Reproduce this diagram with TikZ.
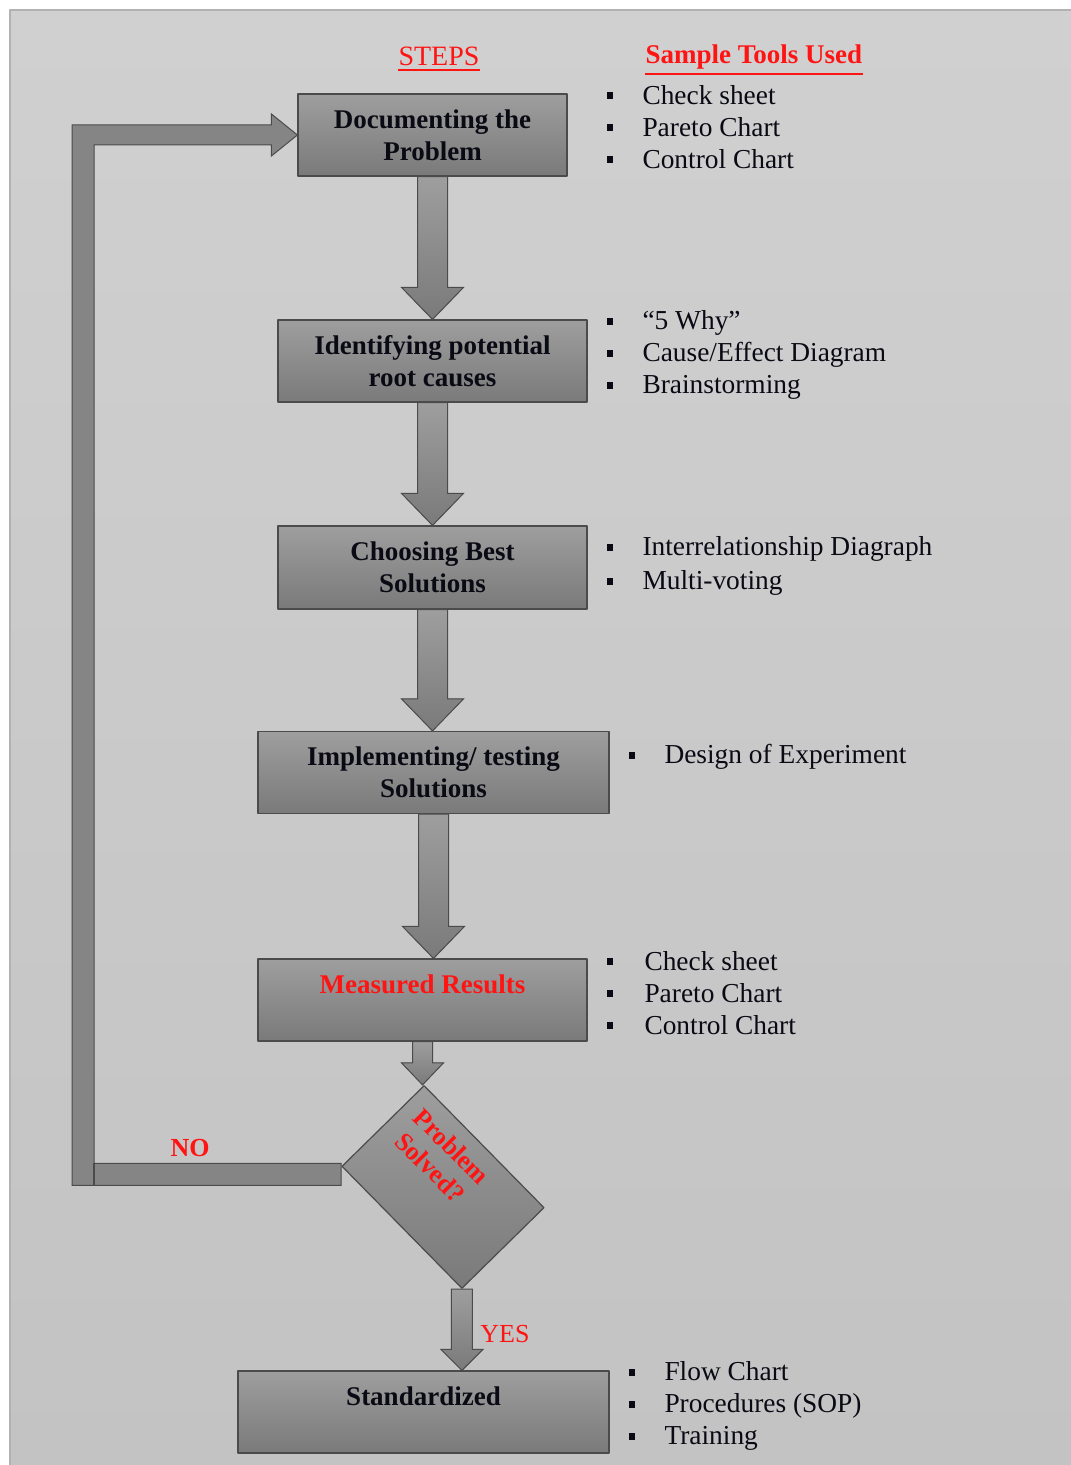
\documentclass[tikz,border=0pt]{standalone}
\usepackage{fontspec}
\setmainfont{Liberation Serif}
\usetikzlibrary{calc}

\definecolor{panelcol}{RGB}{208,208,208}
\definecolor{panelbot}{RGB}{195,195,195}
\definecolor{edgecol}{RGB}{75,75,75}
\definecolor{boxtop}{RGB}{158,158,158}
\definecolor{boxbot}{RGB}{122,122,122}
\definecolor{redtext}{RGB}{255,20,20}
\definecolor{textcol}{RGB}{10,10,20}

\tikzset{
  stepbox/.style={draw=edgecol, line width=1.2bp, top color=boxtop, bottom color=boxbot,
    align=center, inner sep=0pt, minimum height=82bp, text=textcol,
    font=\fontsize{27bp}{32bp}\selectfont\bfseries},
  decisionbox/.style={draw=edgecol, line width=1.2bp, top color=boxtop, bottom color=boxbot,
    minimum width=171bp, minimum height=115bp, inner sep=0pt, rotate=-45.5},
  decisiontext/.style={align=center, inner sep=0pt, rotate=-45, text=redtext,
    font=\fontsize{26bp}{30bp}\selectfont\bfseries},
  toollist/.style={align=left, anchor=west, inner sep=0pt, text=textcol,
    font=\fontsize{27.4bp}{32bp}\selectfont},
  heading/.style={inner sep=0pt, text=redtext, font=\fontsize{28bp}{32bp}\selectfont},
  answer/.style={inner sep=0pt, text=redtext, font=\fontsize{26bp}{30bp}\selectfont},
  arrowbody/.style={draw=edgecol, line width=1bp, line join=miter, top color=boxtop, bottom color=boxbot},
  loopbody/.style={draw=edgecol, line width=1bp, line join=miter, fill=boxbot!92!white},
  headline/.style={redtext, line width=2bp}
}

% bullet mark of the tool lists
\newcommand{\sq}{\rule[5bp]{6bp}{7bp}\hspace{30bp}}

% block arrow straight down, #1 from, #2 to, #3 shaft half width, #4 head half width, #5 head length
\newcommand{\blockarrow}[5]{%
  \filldraw[arrowbody] let \p1=(#1), \p2=(#2) in
    (\x1-#3,\y1) -- (\x1+#3,\y1) -- (\x1+#3,\y2+#5) -- (\x1+#4,\y2+#5)
    -- (\x1,\y2) -- (\x1-#4,\y2+#5) -- (\x1-#3,\y2+#5) -- cycle;
}

\begin{document}
\begin{tikzpicture}[>=latex,line join=bevel]
  \pgfsetlinewidth{1bp}
%%
  \useasboundingbox (0bp,0bp) rectangle (1071bp,1465bp);
  \fill[white] (0bp,0bp) rectangle (1071bp,1465bp);
  \filldraw[draw=black!30, line width=1.5bp, top color=panelcol, bottom color=panelbot]
    (10bp,-2bp) rectangle (1073bp,1455bp);
  % Headings
  \node[heading] (steps) at (439bp,1409bp) {STEPS};
  \node[heading, anchor=west, font=\fontsize{27bp}{32bp}\selectfont\bfseries] (tools) at (645bp,1408bp) {Sample Tools Used};
  \draw[headline] ([yshift=-4bp]steps.south west) -- ([yshift=-4bp]steps.south east);
  \draw[headline] ([yshift=-4bp]tools.south west) -- ([yshift=-4bp]tools.south east);
  % Node: box1
  \node[stepbox, minimum width=269bp] (box1) at (432.5bp,1330bp) {Documenting the\\Problem};
  % Node: box2
  \node[stepbox, minimum width=309bp] (box2) at (432.5bp,1104bp) {Identifying potential\\root causes};
  % Node: box3
  \node[stepbox, minimum width=309bp, minimum height=83bp] (box3) at (432.5bp,897.5bp) {Choosing Best\\Solutions};
  % Node: box4
  \node[stepbox, minimum width=351bp] (box4) at (433.5bp,692.5bp) {Implementing/ testing\\Solutions};
  % Node: box5
  \node[stepbox, minimum width=329bp, text=redtext] (box5) at (422.5bp,465bp) {Measured Results\\\mbox{}};
  % Node: dia
  \node[decisionbox] (dia) at (443bp,278bp) {};
  \node[decisiontext] (diatext) at ($(dia.center)+(-2bp,30bp)$) {Problem\\Solved?};
  % Node: box6
  \node[stepbox, minimum width=371bp] (box6) at (423.5bp,53bp) {Standardized\\\mbox{}};
  % Tool lists
  \node[toollist] (list1) at (606bp,1338bp) {\sq Check sheet\\\sq Pareto Chart\\\sq Control Chart};
  \node[toollist] (list2) at (606bp,1110bp) {\sq ``5 Why''\\\sq Cause/Effect Diagram\\\sq Brainstorming};
  \node[toollist, font=\fontsize{27.4bp}{34bp}\selectfont] (list3) at (606bp,899bp) {\sq Interrelationship Diagraph\\\sq Multi-voting};
  \node[toollist] (list4) at (628bp,708bp) {\sq Design of Experiment};
  \node[toollist] (list5) at (606bp,472bp) {\sq\hspace{2bp}Check sheet\\\sq\hspace{2bp}Pareto Chart\\\sq\hspace{2bp}Control Chart};
  \node[toollist] (list6) at (628bp,59bp) {\sq Flow Chart\\\sq Procedures (SOP)\\\sq Training};
  % Edge: box1 -> box2
  \blockarrow{box1.south}{box2.north}{15bp}{31bp}{32bp}
  % Edge: box2 -> box3
  \blockarrow{box2.south}{box3.north}{15bp}{31bp}{32bp}
  % Edge: box3 -> box4
  \blockarrow{box3.south}{box4.north}{15bp}{31bp}{32bp}
  % Edge: box4 -> box5
  \blockarrow{box4.south}{box5.north}{15bp}{31bp}{32bp}
  % Edge: box5 -> dia
  \blockarrow{box5.south}{dia.north west}{10bp}{21bp}{22bp}
  % Edge: dia -> box6
  \blockarrow{dia.south east}{box6.north}{10.5bp}{21bp}{21bp}
  \node[answer] (yes) at (505bp,131bp) {YES};
  % Edge: dia -> box1 (back loop)
  \filldraw[loopbody] let \p1=(dia.south west), \p2=(box1.west) in
    (\x1,\y1+3bp) -- (94bp,\y1+3bp) -- (94bp,\y2-10bp) -- (\x2-26bp,\y2-10bp)
    -- (\x2-26bp,\y2-21bp) -- (\x2,\y2) -- (\x2-26bp,\y2+21bp) -- (\x2-26bp,\y2+10bp)
    -- (72bp,\y2+10bp) -- (72bp,\y1-19bp) -- (\x1,\y1-19bp) -- cycle;
  \draw[edgecol, line width=1.5bp] let \p1=(dia.south west) in (94bp,\y1+3bp) -- (94bp,\y1-19bp);
  \node[answer, font=\fontsize{26bp}{30bp}\selectfont\bfseries] (no) at (190bp,317bp) {NO};
%
\end{tikzpicture}
\end{document}
